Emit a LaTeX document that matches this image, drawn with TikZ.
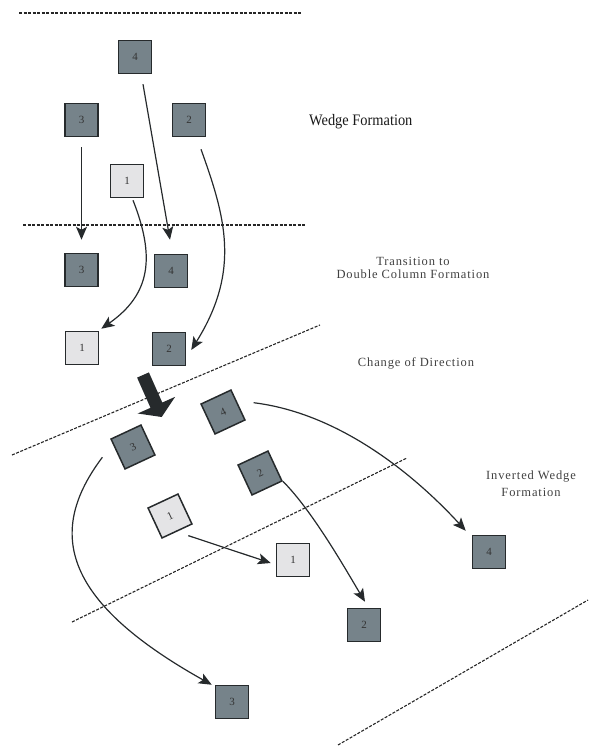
\documentclass[tikz,border=0pt]{standalone}
\usepackage{fontspec}
\setmainfont{Liberation Serif}
\newfontfamily\capfont[LetterSpace=7]{Liberation Serif}
\usetikzlibrary{arrows.meta}
\definecolor{troopgray}{RGB}{118,131,138}
\definecolor{leadgray}{RGB}{228,228,230}
\definecolor{inkgray}{RGB}{38,42,44}
\tikzset{
  unit/.style={draw=inkgray, line width=1.5pt, minimum size=33pt, inner sep=0pt,
    font=\fontsize{11}{11}\selectfont, text=black!80},
  troop/.style={unit, fill=troopgray},
  lead/.style={unit, fill=leadgray},
  move/.style={line width=1.2pt, draw=inkgray, -{Stealth[length=13pt,width=11pt,inset=3pt]}},
  phase/.style={line width=1.1pt, draw=black!85, dash pattern=on 3pt off 1.5pt},
  caption/.style={inner sep=0pt, align=center, text=black!75,
    font=\capfont\fontsize{12.5}{13.5}\selectfont},
}
\begin{document}
\begin{tikzpicture}[x=1pt,y=-1pt]
\useasboundingbox (0,0) rectangle (591,746);
% phase lines
\draw[phase] (19,13) -- (302,13);
\draw[phase] (23,225) -- (305,225);
\draw[phase] (12,455) -- (320,325);
\draw[phase] (72,622) -- (407,458);
\draw[phase] (338,745) -- (588,600);
% wedge
\node[troop] (t4) at (135,57) {4};
\node[troop] (t3) at (81.5,120) {3};
\node[troop] (t2) at (189,120) {2};
\node[lead] (t1) at (127,181) {1};
% double column
\node[troop] (m3) at (81.5,270) {3};
\node[troop] (m4) at (171,271) {4};
\node[lead] (m1) at (82,348) {1};
\node[troop] (m2) at (169,349) {2};
% after the turn
\node[troop, rotate=25] (r4) at (223,412) {4};
\node[troop, rotate=25] (r3) at (133,447) {3};
\node[troop, rotate=25] (r2) at (260,473) {2};
\node[lead, rotate=25] (r1) at (170,516) {1};
% inverted wedge
\node[lead] (f1) at (293,560) {1};
\node[troop] (f4) at (489,552) {4};
\node[troop] (f2) at (364,625) {2};
\node[troop] (f3) at (232,702) {3};
% labels
\node[caption, anchor=west, text=black!90, font=\fontsize{16}{16}\selectfont] (wedge) at (309,122)
  {\scalebox{0.9}[1]{Wedge Formation}};
\node[caption] (transit) at (413,268) {Transition to\\Double Column Formation};
\node[caption] (turn) at (416,363) {Change of Direction};
\node[caption, font=\capfont\fontsize{12.5}{16.7}\selectfont] (inverted) at (531,484)
  {Inverted Wedge\\Formation};
% moves
\draw[move, shorten <=10pt, shorten >=13pt] (t3) -- (m3);
\draw[move] ([shift={(8,10)}]t4.south) -- ([shift={(-1,-14)}]m4.north);
\draw[move] ([shift={(12,12)}]t2.south) .. controls +(24,67) and +(50,-80) .. ([shift={(5,1)}]m2.east);
\draw[move] ([shift={(6,2)}]t1.south) .. controls +(22,56) and +(50,-35) .. ([shift={(2,-2)}]m1.north east);
% turn arrow
\fill[inkgray] (137.1,377.6) -- (148.9,372.4) -- (162.3,402.5) -- (175.2,396.8)
  -- (161.7,417.0) -- (137.7,413.5) -- (150.5,407.8) -- cycle;
\draw[move] ([shift={(15,-2)}]r4.east) .. controls +(82,10) and +(-56,-61) .. ([shift={(-6,-4)}]f4.north west);
\draw[move] (r2.south east) .. controls +(30,30) and +(-18,-30) .. ([shift={(1,-6)}]f2.north);
\draw[move] ([shift={(11,4)}]r1.south) -- ([shift={(-5,3)}]f1.west);
\draw[move] ([shift={(-15,3)}]r3.west) .. controls +(-55,73) and +(-152,-85) .. ([shift={(-3,0)}]f3.north west);
\end{tikzpicture}
\end{document}
